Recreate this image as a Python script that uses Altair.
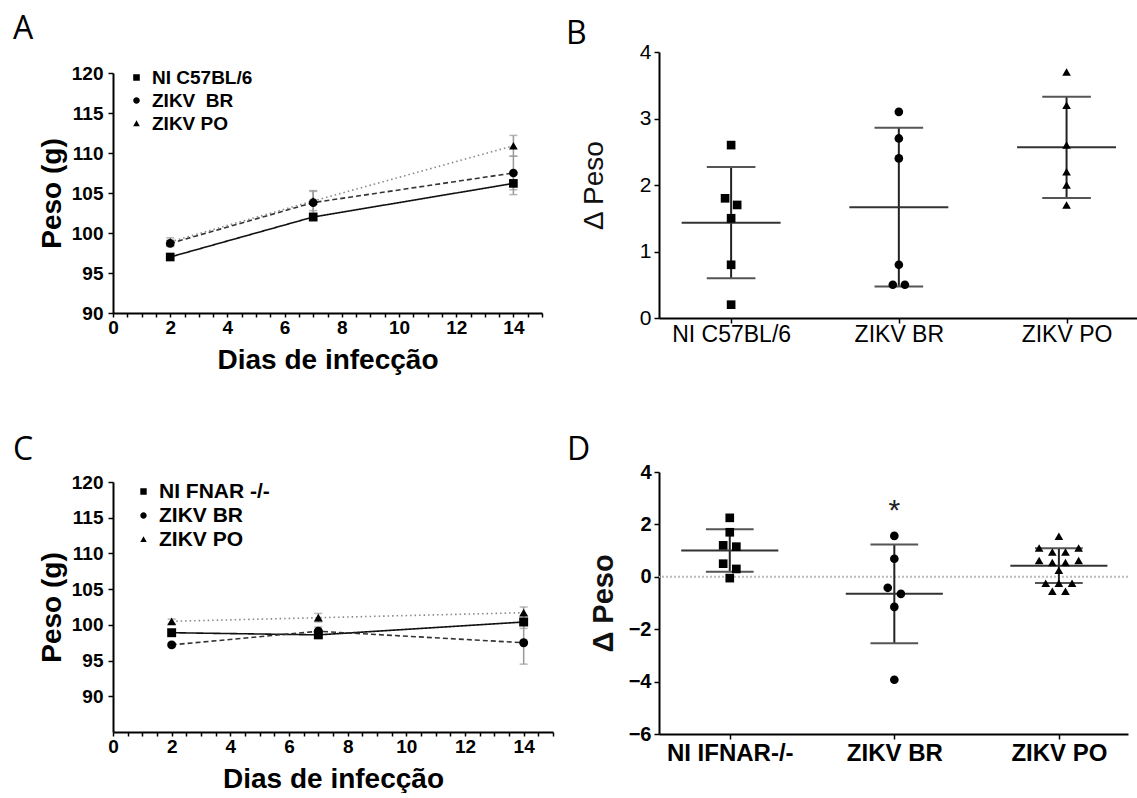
import json
import altair as alt
import pandas as pd

# ---------------- data ----------------
days = [2, 7, 14]
day_ticks = [i * 0.5 for i in range(31)]
peso_ticks = [90, 95, 100, 105, 110, 115, 120]

series_a = ["NI C57BL/6", "ZIKV\u00a0 BR", "ZIKV PO"]
a_ni = [97.0, 102.0, 106.2]
a_ni_err = [0.4, 0.5, 1.4]
a_br = [98.7, 103.8, 107.5]
a_br_err = [0.4, 1.5, 2.1]
a_po = [98.9, 104.0, 110.9]
a_po_err = [0.5, 1.2, 1.3]

series_c = ["NI FNAR -/-", "ZIKV BR", "ZIKV PO"]
c_ni = [98.9, 98.6, 100.4]
c_ni_err = [0.4, 0.4, 0.9]
c_br = [97.2, 99.1, 97.5]
c_br_err = [0.3, 0.6, 3.0]
c_po = [100.5, 101.0, 101.7]
c_po_err = [0.3, 0.6, 0.8]

groups_b = ["NI C57BL/6", "ZIKV BR", "ZIKV PO"]
b_ni = [2.6, 1.8, 1.7, 1.5, 0.8, 0.2]
b_br = [3.1, 2.7, 2.4, 0.8, 0.5, 0.5]
b_po = [3.7, 3.2, 2.6, 2.2, 2.0, 1.7]
b_ticks = [0, 1, 2, 3, 4]

groups_d = ["NI IFNAR-/-", "ZIKV BR", "ZIKV PO"]
d_ni = [2.25, 1.7, 1.2, 1.15, 0.5, 0.3, -0.05]
d_br = [1.56, 0.69, -0.42, -0.65, -1.15, -3.93]
d_po = [1.55, 1.1, 1.1, 0.95, 0.95, 0.62, 0.55, 0.55, 0.62, 0.25,
        -0.25, -0.25, -0.25, -0.55, -0.55]
d_ticks = [-6, -4, -2, 0, 2, 4]
d_star_text = ["*"]
d_star_group = ["ZIKV BR"]
d_star_y = [2.5]

FONT = "Liberation Sans"
shapes = ["square", "circle", "triangle-up"]


def legend_paths(h):
    return [
        f"M-1,0H1M-{h},-{h}H{h}V{h}H-{h}Z",
        f"M-1,0H1M{h},0A{h},{h},0,1,1,-{h},0A{h},{h},0,1,1,{h},0Z",
        f"M-1,0.2H1M0,-{h}L{h},{h * 0.8}L-{h},{h * 0.8}Z",
    ]


# ---------------- line panels (A, C) ----------------
def line_panel(series, vals, errs, ydom, yrange, width, height, letter,
               leg_font, leg_size, leg_h, leg_x, leg_y, leg_off, leg_pad,
               letter_dx, letter_dy, pt_size):
    rows = []
    for s, v, e in zip(series, vals, errs):
        for d, vv, ee in zip(days, v, e):
            rows.append(dict(series=s, day=d, val=vv, lo=vv - ee, hi=vv + ee))
    df = pd.DataFrame(rows)

    xscale = alt.Scale(domain=[0, 15], nice=False, zero=False)
    yscale = alt.Scale(domain=ydom, range=yrange, nice=False, zero=False)
    xaxis = alt.Axis(values=day_ticks,
                     labelExpr="datum.value % 2 === 0 ? datum.value : ''",
                     labelOverlap=False, labelFlush=False,
                     labelFont=FONT, labelFontSize=19, labelFontWeight="bold",
                     labelColor="black", labelPadding=1,
                     titleFont=FONT, titleFontSize=28, titleFontWeight="bold",
                     titleColor="black", titlePadding=9,
                     tickSize=4, tickWidth=1.5, tickColor="black",
                     domainColor="black", domainWidth=2, grid=False)
    yaxis = alt.Axis(values=peso_ticks, labelOverlap=False,
                     labelFont=FONT, labelFontSize=19, labelFontWeight="bold",
                     labelColor="black", labelPadding=5,
                     titleFont=FONT, titleFontSize=28, titleFontWeight="bold",
                     titleColor="black", titlePadding=5,
                     tickSize=5, tickWidth=1.5, tickColor="black",
                     domainColor="black", domainWidth=2, grid=False)

    def X(f):
        return alt.X(f, type="quantitative", scale=xscale, axis=xaxis,
                     title="Dias de infecção")

    def Y(f):
        return alt.Y(f, type="quantitative", scale=yscale, axis=yaxis,
                     title="Peso (g)")

    base = alt.Chart(df)
    lines = base.mark_line(strokeWidth=1.6).encode(
        x=X("day"), y=Y("val"),
        strokeDash=alt.StrokeDash("series:N", scale=alt.Scale(
            domain=series, range=[[1, 0], [5, 3], [1.5, 3]]), legend=None),
        color=alt.Color("series:N", scale=alt.Scale(
            domain=series, range=["#111111", "#333333", "#888888"]), legend=None),
    )
    err = base.mark_errorbar(ticks={"size": 8, "color": "#999999"},
                             color="#999999", thickness=1.5).encode(
        x=X("day"), y=Y("lo"), y2=alt.Y2("hi"))
    pts = base.mark_point(filled=True, size=pt_size, opacity=1,
                          color="black").encode(
        x=X("day"), y=Y("val"),
        shape=alt.Shape("series:N", scale=alt.Scale(domain=series, range=shapes),
                        legend=None))
    leg = base.transform_filter("false").mark_point(
        filled=True, size=leg_size, opacity=1, color="black", stroke="black",
        strokeWidth=1.5).encode(
        x=X("day"), y=Y("val"),
        shape=alt.Shape("series:N",
                        scale=alt.Scale(domain=series, range=legend_paths(leg_h)),
                        legend=alt.Legend(
                            title=None, orient="none", legendX=leg_x,
                            legendY=leg_y, labelFont=FONT,
                            labelFontSize=leg_font, labelFontWeight="bold",
                            labelColor="black", labelOffset=leg_off,
                            labelLimit=400,
                            symbolSize=leg_size, symbolFillColor="black",
                            symbolStrokeColor="black", symbolStrokeWidth=1.5,
                            symbolOpacity=1, rowPadding=leg_pad)))
    return alt.layer(lines, err, pts, leg).resolve_scale(
        shape="independent").properties(
        width=width, height=height,
        title=alt.TitleParams(letter, anchor="start", frame="group",
                              dx=letter_dx, dy=letter_dy, offset=0,
                              font="Open Sans", fontSize=32,
                              fontWeight="normal", color="black"))


# ---------------- scatter panels (B, D) ----------------
def jitter(vals, tol, step):
    order = sorted(range(len(vals)), key=lambda i: -vals[i])
    offs = [0.0] * len(vals)
    clusters, cur = [], [order[0]]
    for i in order[1:]:
        if vals[cur[-1]] - vals[i] < tol:
            cur.append(i)
        else:
            clusters.append(cur)
            cur = [i]
    clusters.append(cur)
    for cl in clusters:
        n = len(cl)
        slots = sorted([(k - (n - 1) / 2) * step for k in range(n)],
                       key=lambda s: (-abs(s), s))
        for i, s in zip(cl, slots):
            offs[i] = s
    return offs


def scatter_panel(groups, vals, ydom, yticks, width, height, bold, label_size,
                  ylabel_size, title_size, title_pad, lab_pad, tol, step,
                  letter, letter_dx, letter_dy, pt_size, extra=None,
                  zero_line=False):
    rows, stats = [], []
    for gi, (g, v) in enumerate(zip(groups, vals)):
        offs = jitter(v, tol, step)
        for vv, o in zip(v, offs):
            rows.append(dict(group=g, idx=gi + 1, value=vv, xj=gi + 1 + o))
        s = pd.Series(v)
        m, sd = s.mean(), s.std()
        stats.append(dict(group=g, idx=gi + 1, mean=m, lo=m - sd, hi=m + sd,
                          ml=gi + 1 - 0.295, mr=gi + 1 + 0.295,
                          cl=gi + 1 - 0.145, cr=gi + 1 + 0.145))
    df = pd.DataFrame(rows)
    st = pd.DataFrame(stats)

    weight = "bold" if bold else "normal"
    xscale = alt.Scale(domain=[0.57, 3.42], nice=False, zero=False)
    yscale = alt.Scale(domain=ydom, nice=False, zero=False)
    xaxis = alt.Axis(values=[1, 2, 3],
                     labelExpr=f"{json.dumps(groups)}[datum.value - 1]",
                     labelOverlap=False, labelFlush=False, labelFont=FONT,
                     labelFontSize=label_size, labelFontWeight=weight,
                     labelColor="black", labelPadding=lab_pad,
                     tickSize=5, tickWidth=1.5, tickColor="black",
                     domainColor="black", domainWidth=2, grid=False)
    yaxis = alt.Axis(values=yticks, labelOverlap=False, labelFont=FONT,
                     labelFontSize=ylabel_size, labelFontWeight=weight,
                     labelColor="black", labelPadding=3,
                     titleFont=FONT, titleFontSize=title_size,
                     titleFontWeight=weight, titleColor="#111111",
                     titlePadding=title_pad,
                     tickSize=5, tickWidth=1.5, tickColor="black",
                     domainColor="black", domainWidth=2, grid=False)

    def X(f):
        return alt.X(f, type="quantitative", scale=xscale, axis=xaxis, title=None)

    def Y(f):
        return alt.Y(f, type="quantitative", scale=yscale, axis=yaxis,
                     title="Δ Peso")

    layers = []
    if zero_line:
        layers.append(alt.Chart(pd.DataFrame({"z": [0]})).mark_rule(
            color="#bbbbbb", strokeDash=[2, 2], strokeWidth=2).encode(y=Y("z")))
    sb = alt.Chart(st)
    layers.append(sb.mark_rule(color="#222222", strokeWidth=2).encode(
        x=X("idx"), y=Y("lo"), y2=alt.Y2("hi")))
    layers.append(sb.mark_rule(color="#333333", strokeWidth=2).encode(
        x=X("ml"), x2=alt.X2("mr"), y=Y("mean")))
    layers.append(sb.mark_rule(color="#555555", strokeWidth=2).encode(
        x=X("cl"), x2=alt.X2("cr"), y=Y("lo")))
    layers.append(sb.mark_rule(color="#555555", strokeWidth=2).encode(
        x=X("cl"), x2=alt.X2("cr"), y=Y("hi")))
    layers.append(alt.Chart(df).mark_point(filled=True, size=pt_size, opacity=1,
                                           color="black").encode(
        x=X("xj"), y=Y("value"),
        shape=alt.Shape("group:N", scale=alt.Scale(domain=groups, range=shapes),
                        legend=None)))
    if extra is not None:
        t, gname, yv = extra
        edf = pd.DataFrame({"t": t, "idx": [groups.index(g) + 1 for g in gname],
                            "y": yv})
        layers.append(alt.Chart(edf).mark_text(
            font=FONT, fontSize=30, color="#222222", baseline="middle").encode(
            x=X("idx"), y=Y("y"), text="t:N"))
    return alt.layer(*layers).properties(
        width=width, height=height,
        title=alt.TitleParams(letter, anchor="start", frame="group",
                              dx=letter_dx, dy=letter_dy, offset=0,
                              font="Open Sans", fontSize=32,
                              fontWeight="normal", color="black"))


A = line_panel(series_a, [a_ni, a_br, a_po], [a_ni_err, a_br_err, a_po_err],
               [90, 120], [261, 21], 429, 261, "A",
               leg_font=19, leg_size=144, leg_h=0.55, leg_x=14, leg_y=16,
               leg_off=6, leg_pad=3, letter_dx=-100, letter_dy=-6, pt_size=75)
C = line_panel(series_c, [c_ni, c_br, c_po], [c_ni_err, c_br_err, c_po_err],
               [85, 120], [260, 10], 440, 260, "C",
               leg_font=21, leg_size=256, leg_h=0.4, leg_x=20, leg_y=9,
               leg_off=5, leg_pad=2, letter_dx=-100, letter_dy=-5, pt_size=80)
B = scatter_panel(groups_b, [b_ni, b_br, b_po], [0, 4], b_ticks, 478, 266,
                  False, 23, 21, 28, 31, 0, 0.15, 0.072, "B", -93, 10, 75)
D = scatter_panel(groups_d, [d_ni, d_br, d_po], [-6, 4], d_ticks, 469, 262,
                  True, 24, 20, 29, 10, 2, 0.25, 0.08, "D", -92, 5, 75,
                  extra=(d_star_text, d_star_group, d_star_y), zero_line=True)

chart = alt.concat(A, B, C, D, columns=2, spacing={"row": 154, "column": 68},
                   bounds="flush", align="all").configure_view(
    strokeWidth=0).properties(
    padding={"left": 13, "top": 13, "right": 0, "bottom": 0},
    background="white")

chart.save("out.html", embed_options={"renderer": "svg", "actions": False})
